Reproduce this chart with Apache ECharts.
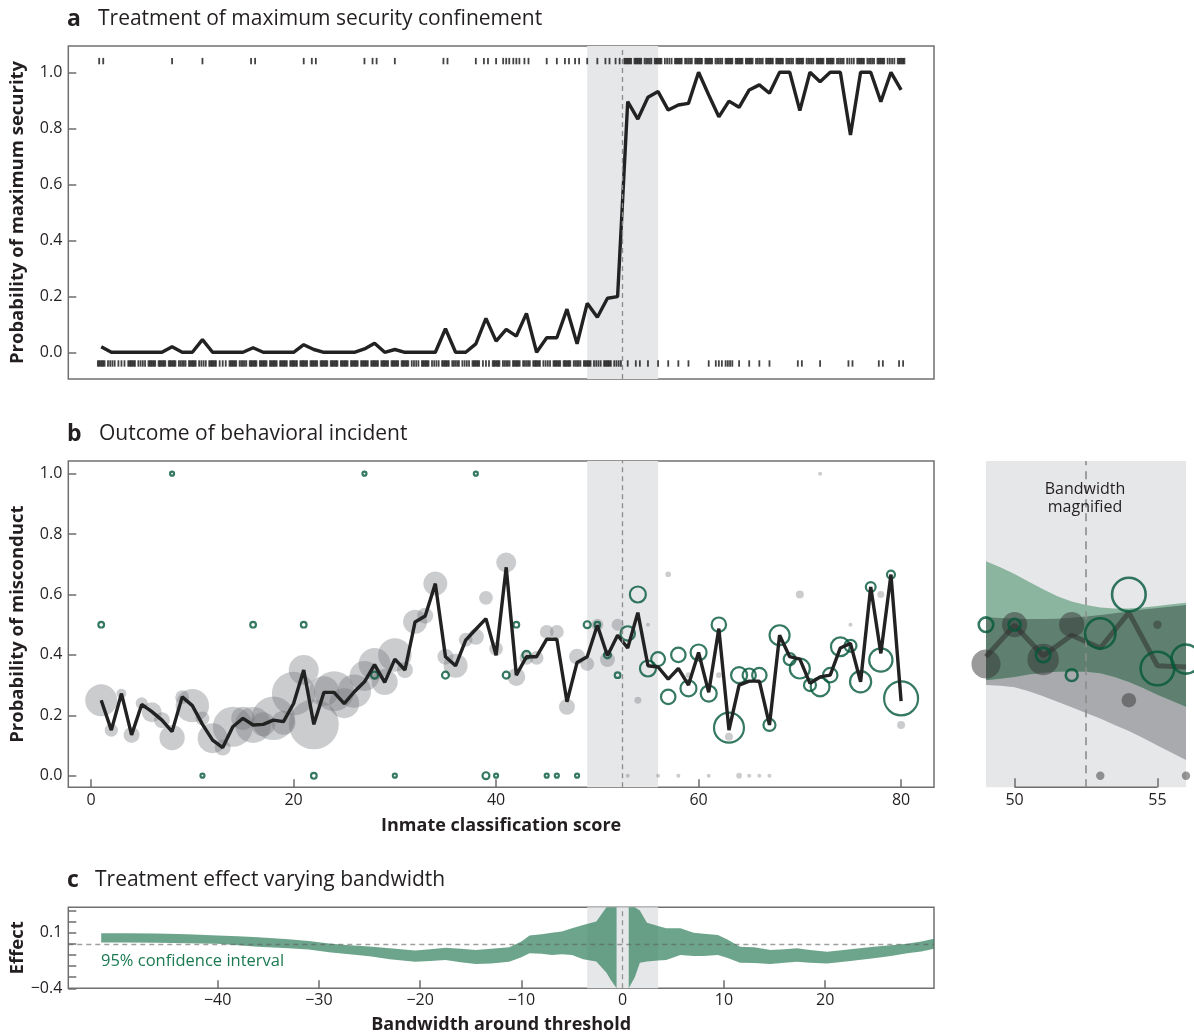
<!DOCTYPE html>
<html>
<head>
<meta charset="utf-8">
<script src="https://cdn.jsdelivr.net/npm/echarts@6/dist/echarts.min.js"></script>
<style>
  html, body { margin: 0; padding: 0; background: #fff; }
  #chart { width: 1194px; height: 1033px; }
</style>
</head>
<body>
<div id="chart"></div>
<script>
// ---------- data ----------
const scores = [1,2,3,4,5,6,7,8,9,10,11,12,13,14,15,16,17,18,19,20,21,22,23,24,25,26,27,28,29,30,
  31,32,33,34,35,36,37,38,39,40,41,42,43,44,45,46,47,48,49,50,51,52,53,54,55,56,57,58,59,60,
  61,62,63,64,65,66,67,68,69,70,71,72,73,74,75,76,77,78,79,80];

// share of inmates placed in maximum security, by classification score
const maxSecurityRate = [0.02,0,0,0,0,0,0,0.02,0,0,0.045,0,0,0,0,0.016,0,0,0,0,
  0.027,0.01,0,0,0,0,0.012,0.032,0,0.01,0,0,0,0,0.084,0,0,0.03,0.121,0.04,
  0.082,0.058,0.139,0,0.052,0.052,0.154,0.03,0.175,0.125,0.193,0.199,0.895,0.833,0.911,0.931,0.865,0.883,0.889,1.0,
  0.919,0.841,0.897,0.875,0.937,0.955,0.925,1.0,1.0,0.863,1.0,0.966,1.0,1.0,0.776,1.0,1.0,0.895,1.0,0.937];

// rug marks: number of observations per score (top = maximum security, bottom = not)
const rugTopScores = [1,8,11,16,21,22,27,28,30,35,38,39,40,41,42,43,45,46,47,48,49,50,51,52,
  53,54,55,56,57,58,59,60,61,62,63,64,65,66,67,68,69,70,71,72,73,74,75,76,77,78,79,80];
const rugTopCounts = [2,1,1,2,1,2,1,2,1,2,1,2,1,3,3,2,1,1,2,2,1,1,2,2,
  6,6,5,6,4,6,5,6,6,5,6,6,6,5,6,6,5,6,5,6,6,5,4,6,5,6,4,6];
const rugBottomScores = [1,2,3,4,5,6,7,8,9,10,11,12,13,14,15,16,17,18,19,20,21,22,23,24,25,26,
  27,28,29,30,31,32,33,34,35,36,37,38,39,40,41,42,43,44,45,46,47,48,49,50,51,52,
  53,54,55,56,57,58,59,61,62,63,64,65,66,67,70,72,75,78,80];
const rugBottomCounts = [6,4,3,6,4,6,6,6,5,6,4,6,3,6,5,6,6,6,6,6,6,6,6,6,6,6,
  6,6,6,6,6,4,6,4,6,5,4,6,3,6,5,6,5,6,4,6,6,5,6,4,6,4,
  1,2,1,1,1,1,1,1,3,4,1,1,1,1,2,1,2,2,2];

// misconduct rate, all inmates, by score
const misconductRate = [0.25,0.151,0.272,0.135,0.236,0.212,0.184,0.146,0.261,0.232,
  0.17,0.118,0.093,0.162,0.19,0.168,0.17,0.184,0.179,0.239,
  0.35,0.17,0.276,0.276,0.239,0.278,0.311,0.368,0.309,0.386,
  0.35,0.509,0.529,0.636,0.394,0.364,0.449,0.485,0.52,0.399,
  0.69,0.333,0.394,0.394,0.452,0.452,0.245,0.375,0.394,0.498,
  0.397,0.465,0.423,0.54,0.364,0.36,0.32,0.355,0.3,0.408,
  0.276,0.487,0.151,0.3,0.313,0.313,0.168,0.465,0.394,0.386,
  0.306,0.327,0.333,0.423,0.438,0.311,0.625,0.405,0.666,0.247];

// misconduct among inmates not in maximum security (filled grey bubbles)
const controlScore = [1,2,3,4,5,6,7,8,9,10,11,12,13,14,15,16,17,18,19,20,21,22,23,24,25,26,
  27,28,29,30,31,32,33,34,35,36,37,38,39,40,41,42,43,44,45,46,47,48,49,50,51,52,
  53,54,55,56,57,58,59,61,62,63,64,65,66,67,70,72,75,78,80];
const controlRate = [0.25,0.151,0.272,0.135,0.24,0.21,0.184,0.126,0.26,0.232,
  0.19,0.124,0.093,0.162,0.19,0.168,0.17,0.19,0.175,0.272,
  0.35,0.17,0.28,0.28,0.24,0.28,0.33,0.37,0.31,0.4,
  0.35,0.51,0.53,0.636,0.394,0.364,0.45,0.46,0.589,0.42,
  0.706,0.327,0.39,0.39,0.476,0.476,0.228,0.394,0.37,0.5,0.385,0.5,
  0,0.25,0.5,0,0.667,0,0.333,0,0.333,0.129,0,0,0,0,0.6,1.0,0.5,0.6,0.168];
const controlCount = [64,11,6,16,9,25,16,40,12,70,12,56,16,100,34,81,36,118,36,118,56,156,56,100,56,70,
  56,64,42,70,16,36,16,36,16,36,12,16,12,12,25,20,12,12,12,12,16,16,12,9,14,9,
  1,3,1,1,2,1,2,1,2,4,2,1,1,1,4,1,1,3,4];

// misconduct among inmates in maximum security (open green bubbles)
const treatedScore = [1,8,11,16,21,22,27,28,30,35,38,39,40,41,42,43,45,46,48,49,50,51,52,
  53,54,55,56,57,58,59,60,61,62,63,64,65,66,67,68,69,70,71,72,73,74,75,76,77,78,79,80];
const treatedRate = [0.5,1,0,0.5,0.5,0,1,0.333,0,0.333,1,0,0,0.333,0.5,0.4,0,0,0,0.5,0.5,0.4,0.333,
  0.471,0.6,0.355,0.386,0.261,0.4,0.289,0.408,0.272,0.5,0.159,0.333,0.333,0.333,0.168,0.465,0.386,0.355,
  0.3,0.294,0.333,0.427,0.43,0.311,0.625,0.383,0.666,0.256];
const treatedCount = [2,1,1,2,2,2,1,3,1,3,1,3,1,3,2,4,1,1,1,3,2,3,2,
  13,16,16,12,13,13,16,16,16,13,56,16,11,13,9,25,9,25,9,22,13,22,9,28,6,34,4,72];

// local fits inside the bandwidth (magnified panel)
const fitScores = [49,49.5,50,50.5,51,51.5,52,52.5,53,53.5,54,54.5,55,55.5,56];
const treatedFitUpper = [0.71,0.69,0.668,0.642,0.617,0.594,0.577,0.565,0.557,0.554,0.554,0.557,0.562,0.568,0.573];
const treatedFitLower = [0.316,0.321,0.327,0.335,0.341,0.344,0.345,0.344,0.339,0.327,0.31,0.29,0.268,0.248,0.228];
const controlFitUpper = [0.525,0.522,0.52,0.519,0.519,0.52,0.523,0.527,0.532,0.538,0.544,0.55,0.555,0.56,0.565];
const controlFitLower = [0.30,0.298,0.293,0.28,0.263,0.245,0.227,0.208,0.189,0.168,0.148,0.125,0.1,0.076,0.052];

// treatment effect by bandwidth (95% CI); null marks the break at zero
const bandwidths = [-51.5,-49,-46,-43,-40,-38,-36,-33,-31,-29,-27,-25,-23,-20.5,-19,-17.5,-16,-14.5,-13,-11.2,
  -10,-9.2,-8,-7,-6,-5,-3.9,-2.6,-1.6,-1.2,-0.6,0,0.6,1.2,1.7,2.4,3.5,4.3,5.7,7,8,9.4,10.3,11.6,13,14.6,16,17.2,
  18.5,20.2,22.5,24.8,26.5,28.1,29.5,30.75];
const effectUpper = [0.095,0.095,0.093,0.085,0.075,0.067,0.058,0.04,0.025,0.003,-0.013,-0.025,-0.04,-0.06,-0.05,-0.035,-0.045,-0.056,-0.045,-0.03,
  0.02,0.075,0.085,0.1,0.11,0.14,0.17,0.2,0.328,0.328,0.328,null,0.328,0.328,0.3,0.19,0.16,0.14,0.14,0.1,0.09,0.079,0.04,-0.026,-0.03,-0.056,-0.048,-0.041,
  -0.055,-0.071,-0.05,-0.026,-0.012,0.0,0.02,0.045];
const effectLower = [0.012,0.012,0.01,0.006,0.0,-0.012,-0.026,-0.04,-0.052,-0.075,-0.094,-0.112,-0.138,-0.162,-0.155,-0.145,-0.165,-0.182,-0.178,-0.162,
  -0.12,-0.085,-0.09,-0.1,-0.095,-0.1,-0.14,-0.16,-0.26,-0.32,-0.4,null,-0.4,-0.3,-0.17,-0.16,-0.15,-0.146,-0.1,-0.11,-0.11,-0.1,-0.125,-0.17,-0.172,-0.182,-0.17,-0.161,
  -0.17,-0.176,-0.155,-0.131,-0.11,-0.086,-0.07,-0.045];

const probTicks = [0, 0.2, 0.4, 0.6, 0.8, 1.0];
const scoreTicks = [0, 20, 40, 60, 80];
const magnifiedTicks = [50, 55];
const effectTicks = [-0.4, -0.3, -0.2, -0.1, 0, 0.1, 0.2, 0.3];
const effectLabelTicks = [-0.4, 0.1];
const bandwidthTicks = [-40, -30, -20, -10, 0, 10, 20];

const threshold = 52.5;
const windowLow = 49, windowHigh = 56;

// ---------- layout & style ----------
const FONT = 'Open Sans';
const INK = '#231f20';
const GREEN = '#04573a';
const FRAME = '#707070';
const SHADE = '#e6e7e9';
const scoreMin = -2.25, scoreMax = 83.25;
const rugTopY = 1.04, rugBottomY = -0.04;

const frameLeft = 68.3, frameWidth = 865.7;

function minusSign(v) { return String(v).replace('-', '\u2212'); }

function valueAxis(o) {
  const tickVals = o.ticks || [];
  const labelVals = o.labels || tickVals;
  return {
    type: 'value', gridIndex: o.grid, min: o.min, max: o.max,
    name: o.name || '', nameLocation: 'middle', nameGap: o.nameGap || 30,
    nameRotate: o.nameRotate, nameMoveOverlap: false,
    nameTextStyle: { fontFamily: FONT, fontWeight: 'bold', fontSize: o.nameSize || 18, color: INK },
    axisLine: { show: false, onZero: false },
    splitLine: { show: false },
    axisTick: { show: tickVals.length > 0, inside: true, length: o.tickLen || 8, customValues: tickVals,
      lineStyle: { color: '#6d6d6d', width: 1.5 } },
    axisLabel: { show: labelVals.length > 0, customValues: labelVals, margin: o.margin || 6,
      fontFamily: FONT, fontSize: 16, color: INK, formatter: o.fmt || (v => minusSign(v)) }
  };
}

function rugRenderer(yPos) {
  return function (params, api) {
    const s = api.value(0), n = api.value(1);
    const h = n > 1 ? Math.min(0.33, 0.1 * n) : 0;
    const children = [];
    for (let k = 0; k < n; k++) {
      const x = n > 1 ? s - h + (2 * h * k) / (n - 1) : s;
      const p = api.coord([x, yPos]);
      children.push({ type: 'line', shape: { x1: p[0], y1: p[1] - 3.2, x2: p[0], y2: p[1] + 3.2 },
        style: { stroke: 'rgba(20,20,20,0.8)', lineWidth: 1.8 } });
    }
    return { type: 'group', children };
  };
}

function bandRenderer(xs, upper, lower, fill) {
  return function (params, api) {
    const segs = []; let cur = [];
    for (let i = 0; i < xs.length; i++) {
      if (upper[i] == null || lower[i] == null) { if (cur.length) segs.push(cur); cur = []; }
      else cur.push(i);
    }
    if (cur.length) segs.push(cur);
    const children = segs.map(seg => {
      const top = seg.map(i => api.coord([xs[i], upper[i]]));
      const bot = seg.slice().reverse().map(i => api.coord([xs[i], lower[i]]));
      return { type: 'polygon', shape: { points: top.concat(bot) }, style: { fill } };
    });
    return { type: 'group', children };
  };
}

function thresholdMarks(xi, yi, offset, z) {
  return {
    type: 'line', xAxisIndex: xi, yAxisIndex: yi, data: [], silent: true, z: z,
    markArea: { silent: true, itemStyle: { color: SHADE },
      data: [[{ xAxis: windowLow - offset }, { xAxis: windowHigh - offset }]] },
    markLine: { silent: true, symbol: 'none', label: { show: false },
      lineStyle: { color: '#8c8c8c', type: [5, 4], width: 1.3 },
      data: [{ xAxis: threshold - offset }] }
  };
}

const pairs = (xs, ys) => xs.map((x, i) => [x, ys[i]]);
const triples = (xs, ys, ns) => xs.map((x, i) => [x, ys[i], ns[i]]);
const inWindow = p => p[0] >= windowLow && p[0] <= windowHigh;

const lineData = pairs(scores, misconductRate);
const controlData = triples(controlScore, controlRate, controlCount);
const treatedData = triples(treatedScore, treatedRate, treatedCount);

const overlapUpper = fitScores.map((_, i) => Math.min(controlFitUpper[i], treatedFitUpper[i]));
const overlapLower = fitScores.map((_, i) => Math.max(controlFitLower[i], treatedFitLower[i]));

const chart = echarts.init(document.getElementById('chart'), null, { renderer: 'canvas' });

const gridBase = { show: true, containLabel: false, outerBoundsMode: 'none' };
const option = {
  animation: false,
  backgroundColor: '#fff',
  grid: [
    Object.assign({ left: frameLeft, top: 46, width: frameWidth, height: 333, borderColor: FRAME, borderWidth: 1.5, backgroundColor: 'transparent' }, gridBase),
    Object.assign({ left: frameLeft, top: 461, width: frameWidth, height: 326.3, borderColor: FRAME, borderWidth: 1.5, backgroundColor: 'transparent' }, gridBase),
    Object.assign({ left: 986, top: 461, width: 200, height: 326.3, borderWidth: 0, backgroundColor: SHADE }, gridBase),
    Object.assign({ left: frameLeft, top: 907.3, width: frameWidth, height: 81, borderColor: FRAME, borderWidth: 1.5, backgroundColor: 'transparent' }, gridBase)
  ],
  xAxis: [
    valueAxis({ grid: 0, min: scoreMin, max: scoreMax }),
    valueAxis({ grid: 1, min: scoreMin, max: scoreMax, ticks: scoreTicks, name: 'Inmate classification score', nameGap: 30, margin: 5 }),
    valueAxis({ grid: 2, min: windowLow, max: windowHigh, ticks: magnifiedTicks, tickLen: 9, margin: 5 }),
    valueAxis({ grid: 3, min: scoreMin - threshold, max: scoreMax - threshold, ticks: bandwidthTicks, name: 'Bandwidth around threshold', nameGap: 28, margin: 4 })
  ],
  yAxis: [
    valueAxis({ grid: 0, min: -0.0954, max: 1.0939, ticks: probTicks, name: 'Probability of maximum security', nameSize: 18.5, nameGap: 41, nameRotate: 90, fmt: v => v.toFixed(1) }),
    valueAxis({ grid: 1, min: -0.0384, max: 1.042, ticks: probTicks, name: 'Probability of misconduct', nameSize: 18.5, nameGap: 41, nameRotate: 90, fmt: v => v.toFixed(1) }),
    valueAxis({ grid: 2, min: -0.0384, max: 1.042 }),
    valueAxis({ grid: 3, min: -0.4, max: 0.328, ticks: effectTicks, labels: effectLabelTicks, name: 'Effect', nameSize: 18.5, nameGap: 41, nameRotate: 90, fmt: v => minusSign(v.toFixed(1)) })
  ],
  graphic: [
    { type: 'text', x: 67, y: 19, style: { text: 'a', font: 'bold 23px "' + FONT + '"', fill: INK, verticalAlign: 'middle' } },
    { type: 'text', x: 98, y: 19, style: { text: 'Treatment of maximum security confinement', font: '21px "' + FONT + '"', fill: INK, verticalAlign: 'middle' } },
    { type: 'text', x: 67, y: 434, style: { text: 'b', font: 'bold 23px "' + FONT + '"', fill: INK, verticalAlign: 'middle' } },
    { type: 'text', x: 99, y: 434, style: { text: 'Outcome of behavioral incident', font: '21px "' + FONT + '"', fill: INK, verticalAlign: 'middle' } },
    { type: 'text', x: 67, y: 880, style: { text: 'c', font: 'bold 23px "' + FONT + '"', fill: INK, verticalAlign: 'middle' } },
    { type: 'text', x: 95, y: 880, style: { text: 'Treatment effect varying bandwidth', font: '21px "' + FONT + '"', fill: INK, verticalAlign: 'middle' } },
    { type: 'text', x: 1085, y: 498, z: 20, style: { text: 'Bandwidth\nmagnified', font: '16px "' + FONT + '"', lineHeight: 18, fill: INK, align: 'center', verticalAlign: 'middle' } },
    { type: 'text', x: 101, y: 961, z: 20, style: { text: '95% confidence interval', font: '16.5px "' + FONT + '"', fill: '#1b7a52', verticalAlign: 'middle' } }
  ],
  series: [
    // ---- panel a ----
    thresholdMarks(0, 0, 0, 1),
    { type: 'custom', xAxisIndex: 0, yAxisIndex: 0, silent: true, z: 3,
      renderItem: rugRenderer(rugTopY), data: pairs(rugTopScores, rugTopCounts) },
    { type: 'custom', xAxisIndex: 0, yAxisIndex: 0, silent: true, z: 3,
      renderItem: rugRenderer(rugBottomY), data: pairs(rugBottomScores, rugBottomCounts) },
    { type: 'line', xAxisIndex: 0, yAxisIndex: 0, silent: true, z: 4, symbol: 'none',
      lineStyle: { color: '#222', width: 3.4 }, data: pairs(scores, maxSecurityRate) },

    // ---- panel b ----
    thresholdMarks(1, 1, 0, 1),
    { type: 'scatter', xAxisIndex: 1, yAxisIndex: 1, silent: true, z: 2, data: controlData,
      symbolSize: v => 4 * Math.sqrt(v[2]),
      itemStyle: { color: 'rgba(112,114,118,0.45)', borderWidth: 0 } },
    { type: 'scatter', xAxisIndex: 1, yAxisIndex: 1, silent: true, z: 3, data: treatedData,
      symbolSize: v => 4 * Math.sqrt(v[2]),
      itemStyle: { color: 'rgba(0,0,0,0)', borderColor: GREEN, borderWidth: 2.2 } },
    { type: 'line', xAxisIndex: 1, yAxisIndex: 1, silent: true, z: 4, symbol: 'none',
      lineStyle: { color: '#222', width: 3.4 }, data: lineData },

    // ---- magnified window ----
    { type: 'custom', xAxisIndex: 2, yAxisIndex: 2, silent: true, z: 1,
      renderItem: bandRenderer(fitScores, controlFitUpper, controlFitLower, '#a9aaad'), data: [[windowLow, 0]] },
    { type: 'custom', xAxisIndex: 2, yAxisIndex: 2, silent: true, z: 1,
      renderItem: bandRenderer(fitScores, treatedFitUpper, treatedFitLower, '#8cb5a0'), data: [[windowLow, 0]] },
    { type: 'custom', xAxisIndex: 2, yAxisIndex: 2, silent: true, z: 1,
      renderItem: bandRenderer(fitScores, overlapUpper, overlapLower, '#5f8070'), data: [[windowLow, 0]] },
    { type: 'line', xAxisIndex: 2, yAxisIndex: 2, data: [], silent: true, z: 2,
      markLine: { silent: true, symbol: 'none', label: { show: false },
        lineStyle: { color: '#8c8c8c', type: [8, 6], width: 1.6 }, data: [{ xAxis: threshold }] } },
    { type: 'line', xAxisIndex: 2, yAxisIndex: 2, silent: true, z: 2, symbol: 'none',
      lineStyle: { color: '#6d6d6d', width: 1.5 }, data: [[magnifiedTicks[0], -0.0384], [magnifiedTicks[1], -0.0384]] },
    { type: 'scatter', xAxisIndex: 2, yAxisIndex: 2, silent: true, z: 3, data: controlData.filter(inWindow),
      symbolSize: v => 8.4 * Math.sqrt(v[2]),
      itemStyle: { color: 'rgba(50,50,53,0.62)', borderWidth: 0 } },
    { type: 'line', xAxisIndex: 2, yAxisIndex: 2, silent: true, z: 4, symbol: 'none',
      lineStyle: { color: 'rgba(45,45,45,0.55)', width: 5 }, data: lineData.filter(inWindow) },
    { type: 'scatter', xAxisIndex: 2, yAxisIndex: 2, silent: true, z: 5, data: treatedData.filter(inWindow),
      symbolSize: v => 8.4 * Math.sqrt(v[2]),
      itemStyle: { color: 'rgba(0,0,0,0)', borderColor: GREEN, borderWidth: 2.6 } },

    // ---- panel c ----
    { type: 'line', xAxisIndex: 3, yAxisIndex: 3, data: [], silent: true, z: 1,
      markArea: { silent: true, itemStyle: { color: SHADE },
        data: [[{ xAxis: windowLow - threshold }, { xAxis: windowHigh - threshold }]] } },
    { type: 'custom', xAxisIndex: 3, yAxisIndex: 3, silent: true, z: 2,
      renderItem: bandRenderer(bandwidths, effectUpper, effectLower, 'rgba(58,134,100,0.74)'), data: [[bandwidths[0], 0]] },
    { type: 'line', xAxisIndex: 3, yAxisIndex: 3, data: [], silent: true, z: 3,
      markLine: { silent: true, symbol: 'none', label: { show: false },
        lineStyle: { color: 'rgba(95,95,95,0.6)', type: [5, 4], width: 1.3 },
        data: [{ yAxis: 0 }, { xAxis: threshold - threshold }] } }
  ]
};

chart.setOption(option);
</script>
</body>
</html>
